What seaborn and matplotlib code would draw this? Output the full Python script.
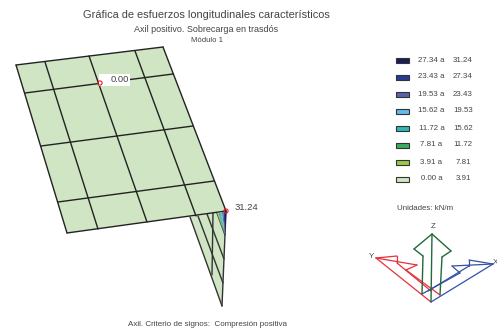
import pandas as pd
import seaborn as sns
import matplotlib.pyplot as plt
from matplotlib.patches import Rectangle

# legend ranges, low to high
range_low = [27.34, 23.43, 19.53, 15.62, 11.72, 7.81, 3.91, 0.00]
range_high = [31.24, 27.34, 23.43, 19.53, 15.62, 11.72, 7.81, 3.91]
range_colors = ['#1b1b5e', '#2a3a94', '#5a62ac', '#62bcea', '#2fb8b8', '#3aae5e', '#9ac84a', '#cfe5c3']

# picture coordinates of the mesh
plate = [(16, 65), (163, 47), (226, 211), (67, 233)]
plate_lines = [
    [(16, 65), (163, 47)], [(25, 93), (173, 74)], [(41, 146), (193, 126)],
    [(58, 202), (214, 181)], [(67, 233), (226, 211)],
    [(16, 65), (67, 233)], [(45, 62), (98, 229)], [(89, 56), (147, 222)],
    [(135, 51), (196, 216)], [(163, 47), (226, 211)],
]
web = [(190, 217), (226, 211), (222, 306)]
web_lines = [
    [(190, 217), (222, 306)], [(226, 211), (222, 306)], [(198, 216), (223, 283)],
    [(207, 214), (224, 259)], [(217, 213), (225, 235)], [(213, 213), (212, 275)],
]
wedge_top = [217, 217.5, 218.5, 219.5, 220.5, 222, 223.5, 225, 226.5]
wedge_top_y = [213, 212.9, 212.8, 212.6, 212.5, 212.3, 212, 211.8, 211.4]
wedge_tip = (225, 235)

axis_y = [[(376, 258), (431, 302)], [(376, 258), (397, 256)], [(376, 258), (417, 265)], [(397, 256), (397, 263)],
          [(417, 265), (406, 270)], [(406, 270), (440, 295)], [(397, 263), (431, 291)]]
axis_x = [[(493, 264), (431, 302)], [(493, 264), (469, 260)], [(493, 264), (452, 266)], [(469, 260), (469, 266)],
          [(452, 266), (460, 273)], [(460, 273), (422, 294)], [(469, 266), (428, 291)]]
axis_z = [[(432, 234), (431, 302)], [(432, 234), (414, 249)], [(414, 249), (423, 256)], [(423, 256), (422, 294)],
          [(432, 234), (451, 251)], [(451, 251), (442, 257)], [(442, 257), (440, 295)]]


def segments(lines):
    rows = []
    for i, seg in enumerate(lines):
        for x, y in seg:
            rows.append({'x': x, 'y': y, 'seg': i})
    return pd.DataFrame(rows)


def draw_lines(ax, lines, color, width):
    sns.lineplot(data=segments(lines), x='x', y='y', units='seg', estimator=None, sort=False,
                 color=color, linewidth=width, ax=ax, legend=False)


sns.set_theme(style='white')
plt.rcParams['font.family'] = ['Liberation Sans', 'DejaVu Sans']
text_color = '#444444'

fig = plt.figure(figsize=(4.97, 3.35), dpi=100)
ax = fig.add_axes([0, 0, 1, 1])

# plate and web
ax.fill(*zip(*plate), color='#cfe5c3', lw=0)
ax.fill(*zip(*web), color='#cfe5c3', lw=0)
draw_lines(ax, web_lines, '#333333', 1.0)
for i in range(8):
    n = 7 - i
    ax.fill([wedge_top[n], wedge_top[n + 1], wedge_tip[0]],
            [wedge_top_y[n], wedge_top_y[n + 1], wedge_tip[1]],
            color=range_colors[7 - n], lw=0, zorder=3)
draw_lines(ax, plate_lines, '#222222', 1.0)

# value labels
ax.add_patch(Rectangle((99, 74), 31, 12, color='white', lw=0, zorder=3))
ax.text(120, 79.5, '0.00', ha='center', va='center', fontsize=6.8, color=text_color, zorder=4)
ax.text(246, 207.5, '31.24', ha='center', va='center', fontsize=6.8, color=text_color)
points = pd.DataFrame({'x': [100, 226], 'y': [83, 211]})
sns.scatterplot(data=points, x='x', y='y', s=9, facecolor='none', edgecolor='#ee1c25',
                linewidth=0.8, ax=ax, zorder=5)

# titles
ax.text(206, 15, 'Gráfica de esfuerzos longitudinales característicos', ha='center', va='center',
        fontsize=7.9, color=text_color)
ax.text(206.5, 29, 'Axil positivo. Sobrecarga en trasdós', ha='center', va='center', fontsize=6.5, color=text_color)
ax.text(207, 40, 'Módulo 1', ha='center', va='center', fontsize=5.6, color=text_color)
ax.text(207.5, 325, 'Axil. Criterio de signos:  Compresión positiva', ha='center', va='center',
        fontsize=5.8, color=text_color)

# legend
for i in range(8):
    y = 60 + i * 17
    ax.add_patch(Rectangle((396, y - 2.5), 13, 5, facecolor=range_colors[i], edgecolor='#333333', lw=0.8))
    ax.text(431.5, y, f'{range_low[i]:.2f} a', ha='center', va='center', fontsize=5.7, color=text_color)
    ax.text(463, y, f'{range_high[i]:.2f}', ha='center', va='center', fontsize=5.7, color=text_color)
ax.text(425.5, 209, 'Unidades: kN/m', ha='center', va='center', fontsize=5.7, color=text_color)

# axis triad
draw_lines(ax, axis_y, '#e8303a', 0.9)
draw_lines(ax, axis_x, '#3550a8', 0.9)
draw_lines(ax, axis_z, '#1f6b3a', 1.0)
ax.text(433, 227, 'Z', ha='center', va='center', fontsize=5.7, color=text_color)
ax.text(371, 256, 'Y', ha='center', va='center', fontsize=5.7, color=text_color)
ax.text(495.5, 263, 'X', ha='center', va='center', fontsize=5.7, color=text_color)

ax.set_xlim(0, 497)
ax.set_ylim(335, 0)
ax.axis('off')
fig.savefig('out.png', dpi=100)
